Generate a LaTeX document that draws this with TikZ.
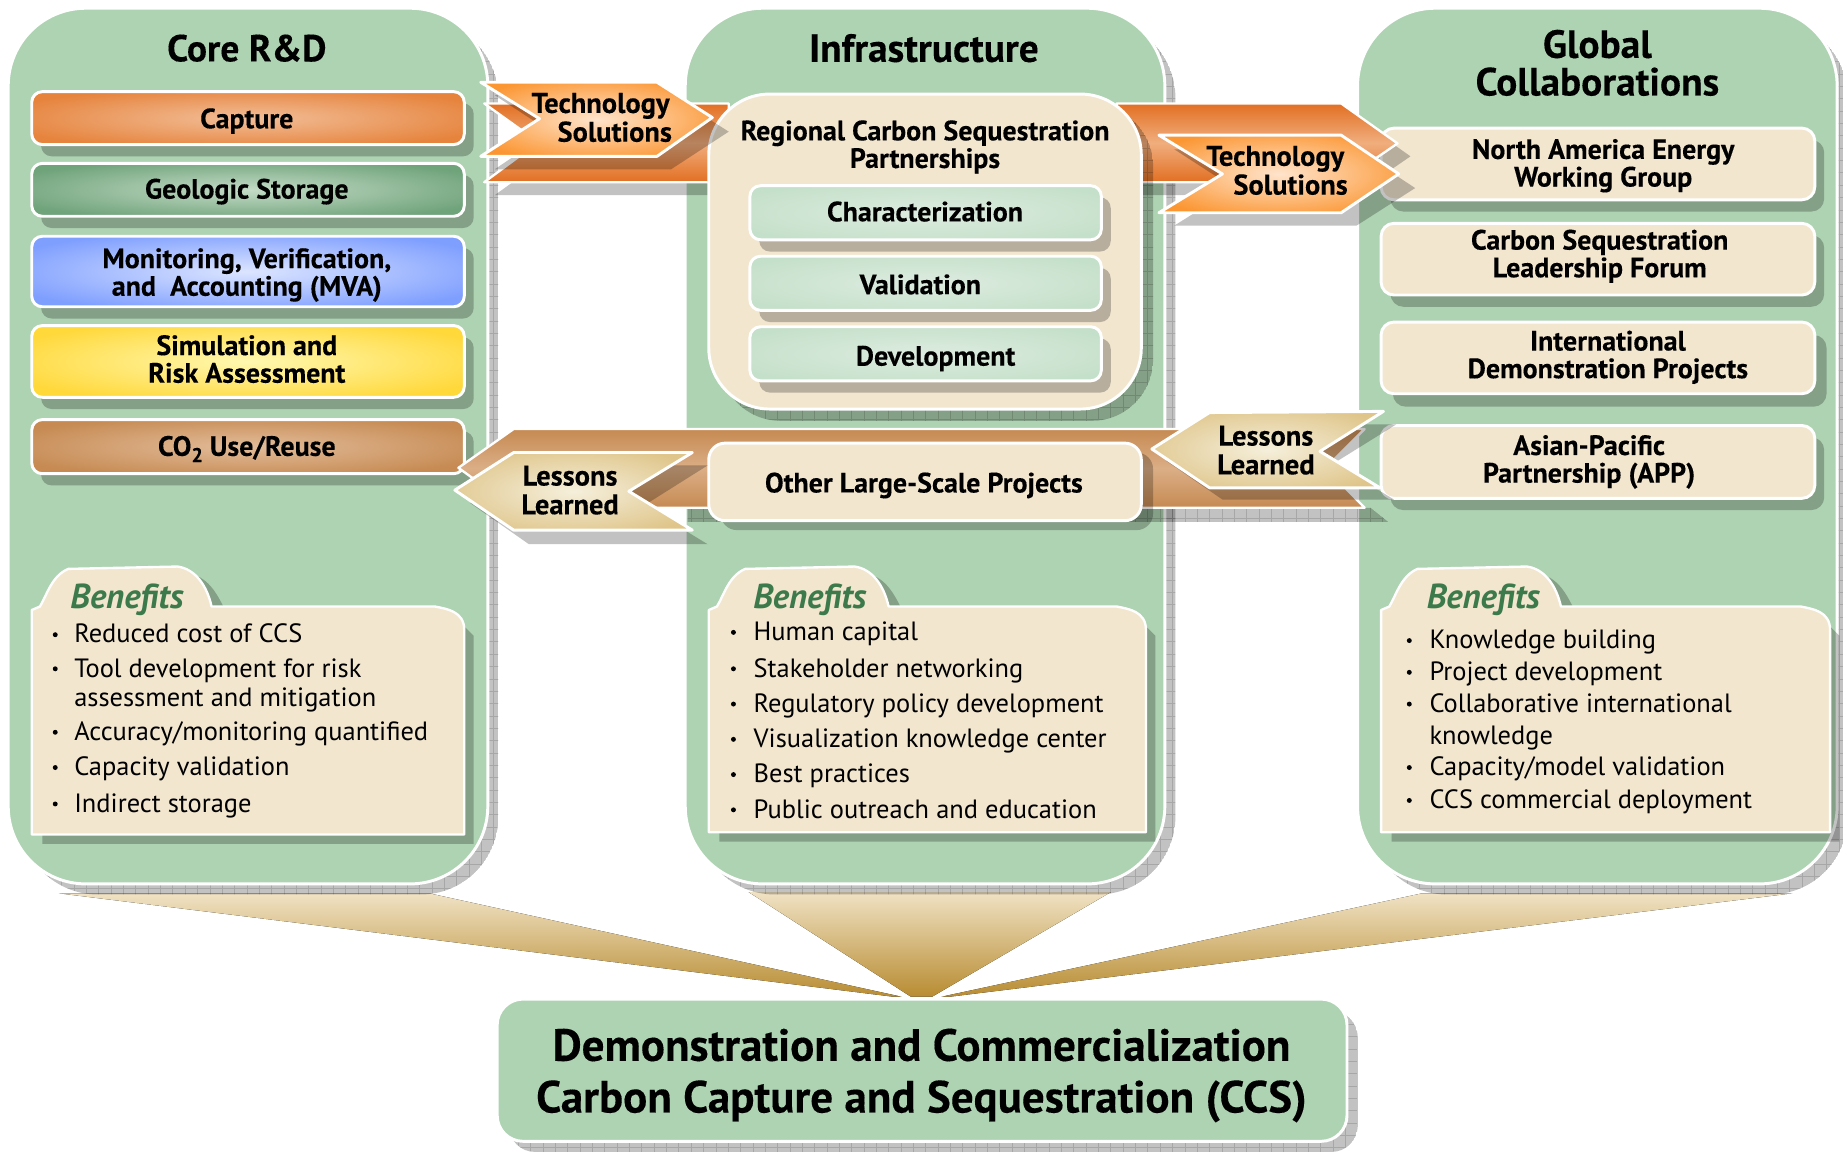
\documentclass[tikz,border=0pt]{standalone}
\usepackage{fontspec}
\setmainfont[BoldFeatures={FakeBold=0.25}]{PT Sans}
\definecolor{panelg}{HTML}{AED3B2}
\definecolor{beige}{HTML}{F2E6CF}
\definecolor{capO}{HTML}{E6833C}\definecolor{capI}{HTML}{F2BE98}
\definecolor{geoO}{HTML}{6FA37A}\definecolor{geoI}{HTML}{C4DBC7}
\definecolor{mvaO}{HTML}{7F9FFF}\definecolor{mvaI}{HTML}{DCE5FF}
\definecolor{simO}{HTML}{FFD83A}\definecolor{simI}{HTML}{FFF8B0}
\definecolor{co2O}{HTML}{C68A52}\definecolor{co2I}{HTML}{E2BC9A}
\definecolor{subO}{HTML}{C5E0CA}\definecolor{subI}{HTML}{DDECE0}
\definecolor{tsO}{HTML}{FB9632}\definecolor{tsI}{HTML}{FFE4CC}
\definecolor{llO}{HTML}{DFC58A}\definecolor{llI}{HTML}{F5EFDB}
\definecolor{bandO}{HTML}{E26F22}\definecolor{bandI}{HTML}{F0AE7E}
\definecolor{lbO}{HTML}{C68A52}\definecolor{lbI}{HTML}{DBAE86}
\definecolor{triT}{HTML}{F0E2C4}\definecolor{triB}{HTML}{B88C32}
\definecolor{bengreen}{HTML}{3C7A4C}
\pgfdeclareradialshading{glowcap}{\pgfpointorigin}{color(0bp)=(capI);color(30bp)=(capO);color(50bp)=(capO)}
\pgfdeclareradialshading{glowgeo}{\pgfpointorigin}{color(0bp)=(geoI);color(30bp)=(geoO);color(50bp)=(geoO)}
\pgfdeclareradialshading{glowmva}{\pgfpointorigin}{color(0bp)=(mvaI);color(30bp)=(mvaO);color(50bp)=(mvaO)}
\pgfdeclareradialshading{glowsim}{\pgfpointorigin}{color(0bp)=(simI);color(30bp)=(simO);color(50bp)=(simO)}
\pgfdeclareradialshading{glowco}{\pgfpointorigin}{color(0bp)=(co2I);color(30bp)=(co2O);color(50bp)=(co2O)}
\pgfdeclareradialshading{glowsub}{\pgfpointorigin}{color(0bp)=(subI);color(30bp)=(subO);color(50bp)=(subO)}
\pgfdeclareradialshading{glowts}{\pgfpointorigin}{color(0bp)=(tsI);color(30bp)=(tsO);color(50bp)=(tsO)}
\pgfdeclareradialshading{glowll}{\pgfpointorigin}{color(0bp)=(llI);color(30bp)=(llO);color(50bp)=(llO)}
\tikzset{
  shadowfill/.style={fill=black,fill opacity=.24,draw=none},
  gridline/.style={draw=black,draw opacity=.14,line width=.5pt},
  wline/.style={draw=white,line width=2.5pt,line join=round},
  hbold/.style={font=\fontsize{23.8}{23.5}\selectfont\bfseries,align=center,text=black,inner sep=0pt},
  title/.style={font=\fontsize{33.5}{32}\selectfont\bfseries,align=center,text=black,inner sep=0pt},
  arrowtxt/.style={font=\fontsize{24.2}{24.5}\selectfont\bfseries,inner sep=0pt,text=black},
  bentitle/.style={font=\fontsize{29.5}{27}\selectfont\bfseries\itshape,text=bengreen,inner sep=0pt},
  bentext/.style={font=\fontsize{22.5}{25}\selectfont,anchor=west,align=left,inner sep=0pt,text=black,text height=20pt,text depth=4pt},
  bulletdot/.style={fill=black,circle,inner sep=0pt,minimum size=4.2pt},
  bandshade/.style={top color=bandO,bottom color=bandO,middle color=bandI},
  lbandshade/.style={top color=lbO,bottom color=lbO,middle color=lbI},
  tritop/.style={top color=triT,bottom color=triB,draw=none},
}
% rounded box with offset shadow: x1,y1,x2,y2,radius,style,dx,dy
\newcommand{\shbox}[8]{%
  \fill[shadowfill,rounded corners=#5pt] (#1+#7,#2+#8) rectangle (#3+#7,#4+#8);
  \path[wline,rounded corners=#5pt,#6] (#1,#2) rectangle (#3,#4);}
\newcommand{\gridshadow}[1]{%
  \begin{scope}\clip #1;\fill[shadowfill] #1;
  \draw[gridline,step=10.5pt] (0,0) grid (1568,980);\end{scope}}
\newcommand{\bitem}[5]{%
  \node[bulletdot] (#1b) at (#2,#3+1) {};
  \node[bentext] (#1) at (#4,#3) {#5};}
\newcommand{\folder}[6]{% dx, right, bottom, name
  \begin{scope}[xshift=#1pt]
  \fill[shadowfill] (36,#3+8) -- (#2+8,#3+8) -- (#2+8,541) -- (#2,533) -- (#2,#3) -- (36,#3) -- cycle;
  \fill[shadowfill] (180,516) .. controls (176,502) and (170,494) .. (160,488) .. controls (176,490) and (184,504) .. (190,516) -- cycle;
  \path[wline,line width=2pt,fill=beige] (27,#3) -- (27,519) -- (34,516)
    .. controls (40,506) and (44,490) .. (58,484) -- (151,482)
    .. controls (166,484) and (176,498) .. (180,516) -- (#2-25,516)
    .. controls (#2-15,518) and (#2,520) .. (#2,536) -- (#2,#3) -- cycle;
  \node[bentitle] (#4) at (#5,#6) {Benefits};
  \end{scope}}
\begin{document}
\begin{tikzpicture}[x=1pt,y=-1pt]
\useasboundingbox (0,0) rectangle (1568,980);
\clip (0,0) rectangle (1568,980);
% converging wedges
\fill[tritop] (50,760) -- (365,760) -- (767,848) -- (760,848) -- cycle;
\fill[tritop] (637,759) -- (945,759) -- (793,848) -- (775,848) -- cycle;
\fill[tritop] (1210,760) -- (1525,760) -- (808,848) -- (801,848) -- cycle;
% panel shadows and panels
\gridshadow{[rounded corners=66pt] (17,17) rectangle (424,761)}
\gridshadow{[rounded corners=66pt] (593,17) rectangle (1000,761)}
\gridshadow{[rounded corners=66pt] (1165,17) rectangle (1572,761)}
\path[wline,fill=panelg,rounded corners=66pt] (7,7) rectangle (415,752);
\path[wline,fill=panelg,rounded corners=66pt] (583,7) rectangle (991,752);
\path[wline,fill=panelg,rounded corners=66pt] (1155,7) rectangle (1563,752);
\node[title,font=\fontsize{32}{32}\selectfont\bfseries] (t1) at (210,41) {Core R\&D};
\node[title] (t2) at (786,41) {Infrastructure};
\node[title] (t3) at (1359,53.5) {Global\\Collaborations};
% bottom box
\gridshadow{[rounded corners=22pt] (433,860) rectangle (1155,980)}
\path[wline,fill=panelg,rounded corners=22pt] (423,850) rectangle (1146,971);
\node[font=\fontsize{38.3}{44}\selectfont\bfseries,align=center,inner sep=0pt,text=black] (demo) at (784,915) {Demonstration and Commercialization\\Carbon Capture and Sequestration (CCS)};
% left column boxes
\shbox{27}{78}{395}{123}{9}{shade,shading=glowcap}{8}{10}
\node[hbold] (cap) at (210,103) {Capture};
\shbox{27}{139}{395}{184}{9}{shade,shading=glowgeo}{8}{10}
\node[hbold] (geo) at (210,163) {Geologic Storage};
\shbox{27}{201}{395}{261}{9}{shade,shading=glowmva}{8}{10}
\node[hbold] (mva) at (210,234) {Monitoring, Verification,\\and\ \ Accounting (MVA)};
\shbox{27}{277}{395}{338}{9}{shade,shading=glowsim}{8}{10}
\node[hbold] (sim) at (210,305.5) {Simulation and\\Risk Assessment};
\shbox{27}{357}{395}{403}{9}{shade,shading=glowco}{8}{10}
\node[hbold] (co2) at (210,382) {CO\raisebox{-.45ex}{\fontsize{17}{17}\selectfont 2} Use/Reuse};
% right column boxes
\shbox{1175}{109}{1544}{170}{11}{fill=beige}{8}{10}
\node[hbold] (nae) at (1364,141) {North America Energy\\Working Group};
\shbox{1175}{190}{1544}{251}{11}{fill=beige}{8}{10}
\node[hbold] (cslf) at (1361,218) {Carbon Sequestration\\Leadership Forum};
\shbox{1175}{274}{1544}{335}{11}{fill=beige}{10}{11}
\node[hbold] (idp) at (1368,304) {International\\Demonstration Projects};
\shbox{1175}{362}{1544}{424}{11}{fill=beige}{8}{10}
\node[hbold] (app) at (1352,393) {Asian-Pacific\\Partnership (APP)};
% band shadows
\fill[shadowfill] (421,166) -- (468,132) -- (428,99) -- (603,99) -- (603,166) -- cycle;
\fill[shadowfill] (960,166) -- (1152,166) -- (1200,133) -- (1152,99) -- (1141,99) -- (1141,155) -- (960,155) -- cycle;
\gridshadow{(585,432) -- (1166,432) -- (1181,444) -- (585,444) -- cycle}
% bands
\path[wline,line width=2pt,bandshade] (412,88) -- (620,88) -- (620,155) -- (412,155) -- (458,121) -- cycle;
\path[wline,line width=2pt,bandshade] (950,88) -- (1141,88) -- (1189,122) -- (1141,155) -- (950,155) -- cycle;
\path[wline,line width=2pt,lbandshade] (437,365) -- (1161,365) -- (1128,398) -- (1161,432) -- (437,432) -- (390,398) -- cycle;
% centre column
\gridshadow{[rounded corners=52pt] (612,89) rectangle (981,358)}
\path[wline,fill=beige,rounded corners=52pt] (603,80) rectangle (971,348);
\node[hbold] (rcsp) at (787,125) {Regional Carbon Sequestration\\Partnerships};
\shbox{638}{158}{937}{204}{9}{shade,shading=glowsub}{8}{10}
\node[hbold] (char) at (787,180) {Characterization};
\shbox{638}{218}{937}{264}{9}{shade,shading=glowsub}{8}{10}
\node[hbold] (val) at (783,242) {Validation};
\shbox{638}{278}{937}{324}{9}{shade,shading=glowsub}{8}{10}
\node[hbold] (dev) at (796,305) {Development};
\shbox{603}{377}{971}{443}{14}{fill=beige}{10}{8}
\node[hbold] (other) at (786,413) {Other Large-Scale Projects};
% front chevrons
\fill[shadowfill] (421,144) -- (468,112) -- (421,81) -- (571,81) -- (620,112) -- (571,144) -- cycle;
\path[wline,shade,shading=glowts] (409,70) -- (559,70) -- (606,100) -- (559,133) -- (409,133) -- (459,101) -- cycle;
\node[arrowtxt,align=right] (ts1) at (511,100) {Technology\\Solutions\kern-2pt};
\fill[shadowfill] (999,192) -- (1050,160) -- (999,127) -- (1154,127) -- (1204,160) -- (1154,192) -- cycle;
\path[wline,shade,shading=glowts] (986,115) -- (1141,115) -- (1190,148) -- (1141,181) -- (986,181) -- (1040,148) -- cycle;
\node[arrowtxt,align=right] (ts2) at (1085,145) {Technology\\Solutions\kern-3pt};
\fill[shadowfill] (400,428) -- (450,396) -- (602,396) -- (548,430) -- (602,463) -- (450,463) -- cycle;
\path[wline,shade,shading=glowll] (387,417) -- (437,385) -- (589,385) -- (535,418) -- (589,451) -- (437,451) -- cycle;
\node[arrowtxt,align=center] (ll1) at (485,417) {Lessons\\Learned};
\fill[shadowfill] (992,392) -- (1040,361) -- (1188,361) -- (1135,394) -- (1186,425) -- (1040,425) -- cycle;
\path[wline,shade,shading=glowll] (980,382) -- (1029,351) -- (1177,350) -- (1123,384) -- (1174,415) -- (1029,415) -- cycle;
\node[arrowtxt,align=center] (ll2) at (1077,383) {Lessons\\Learned};
% benefits folders
\folder{0}{395}{710}{ben1}{108}{510}
\folder{576}{399}{708}{ben2}{113}{510}
\folder{1148}{409}{708}{ben3}{114}{510}
\bitem{a1}{47}{539}{63}{Reduced cost of CCS}
\bitem{a2}{47}{568}{63}{Tool development for risk}
\node[bentext] (a2b2) at (63,593) {assessment and mitigation};
\bitem{a3}{47}{622}{63}{Accuracy/monitoring quantified}
\bitem{a4}{47}{652}{63}{Capacity validation}
\bitem{a5}{47}{683}{63}{Indirect storage}
\bitem{b1}{624}{537}{641}{Human capital}
\bitem{b2}{624}{568}{641}{Stakeholder networking}
\bitem{b3}{624}{598}{641}{Regulatory policy development}
\bitem{b4}{624}{628}{641}{Visualization knowledge center}
\bitem{b5}{624}{658}{641}{Best practices}
\bitem{b6}{624}{688}{641}{Public outreach and education}
\bitem{c1}{1199}{544}{1216}{Knowledge building}
\bitem{c2}{1199}{571}{1216}{Project development}
\bitem{c3}{1199}{598}{1216}{Collaborative international}
\node[bentext] (c3b2) at (1216,625) {knowledge};
\bitem{c4}{1199}{652}{1216}{Capacity/model validation}
\bitem{c5}{1199}{680}{1216}{CCS commercial deployment}
\end{tikzpicture}
\end{document}
